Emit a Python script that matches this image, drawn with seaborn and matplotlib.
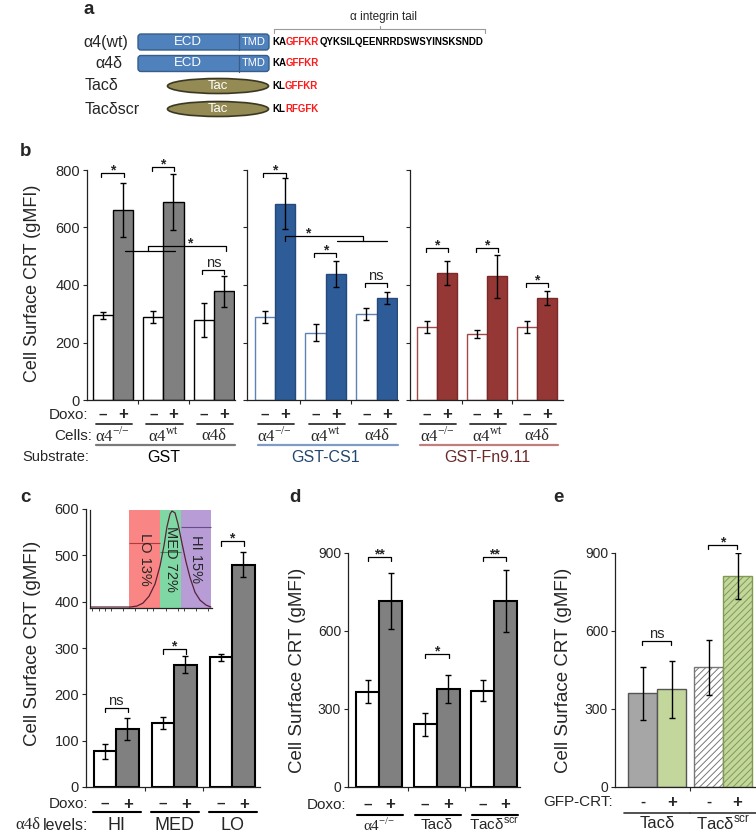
import numpy as np
import pandas as pd
import seaborn as sns
from matplotlib import pyplot as plt
from matplotlib import transforms
from matplotlib.lines import Line2D
from matplotlib.patches import FancyBboxPatch, Ellipse
from matplotlib.offsetbox import TextArea, HPacker, AnnotationBbox

sns.set_style('ticks')
plt.rcParams['font.family'] = ['Liberation Sans', 'DejaVu Sans']
plt.rcParams['mathtext.fontset'] = 'custom'
plt.rcParams['mathtext.rm'] = 'Liberation Serif'
plt.rcParams['mathtext.sf'] = 'Liberation Sans'
plt.rcParams['axes.linewidth'] = 0.9
plt.rcParams['axes.edgecolor'] = '#222222'
plt.rcParams['hatch.linewidth'] = 0.7

W, H = 756, 835

# ---------------- data ----------------
constructs = ['α4(wt)', 'α4δ', 'Tacδ', 'Tacδscr']
tail_head = ['KA', 'KA', 'KL', 'KL']
tail_motif = ['GFFKR', 'GFFKR', 'GFFKR', 'RFGFK']
tail_rest = ['QYKSILQEENRRDSWSYINSKSNDD', '', '', '']

b_cells = ['α4-/-', 'α4wt', 'α4δ']
b_cell_labels = ['α4$^{\\mathrm{{-}/{-}}}$', 'α4$^{\\mathrm{wt}}$', 'α4δ']
substrates = ['GST', 'GST-CS1', 'GST-Fn9.11']
gst_minus = [295, 288, 278]
gst_minus_err = [12, 20, 60]
gst_plus = [660, 688, 378]
gst_plus_err = [94, 97, 55]
cs1_minus = [290, 234, 300]
cs1_minus_err = [21, 30, 20]
cs1_plus = [683, 437, 356]
cs1_plus_err = [88, 45, 21]
fn_minus = [255, 229, 255]
fn_minus_err = [21, 15, 21]
fn_plus = [443, 430, 354]
fn_plus_err = [42, 75, 25]
gst_sig = ['*', '*', 'ns']
cs1_sig = ['*', '*', 'ns']
fn_sig = ['*', '*', '*']

c_levels = ['HI', 'MED', 'LO']
c_minus = [77, 139, 280]
c_minus_err = [16, 13, 8]
c_plus = [125, 264, 480]
c_plus_err = [23, 19, 27]
c_sig = ['ns', '*', '*']
gate_names = ['LO 13%', 'MED 72%', 'HI 15%']
hist_x = [0.01, 0.33, 0.385, 0.434, 0.484, 0.533, 0.574, 0.607, 0.631, 0.656,
          0.672, 0.697, 0.721, 0.754, 0.787, 0.820, 0.861, 0.902, 0.951, 0.99]
hist_y = [0.01, 0.01, 0.02, 0.05, 0.12, 0.245, 0.43, 0.64, 0.83, 0.96,
          0.99, 0.97, 0.86, 0.66, 0.47, 0.31, 0.16, 0.08, 0.03, 0.01]

d_cells = ['α4-/-', 'Tacδ', 'Tacδscr']
d_cell_labels = ['α4$^{\\mathrm{{-}/{-}}}$', 'Tacδ', 'Tacδ$^{\\mathsf{scr}}$']
d_minus = [367, 241, 371]
d_minus_err = [44, 45, 42]
d_plus = [715, 376, 715]
d_plus_err = [107, 53, 118]
d_sig = ['**', '*', '**']

e_cells = ['Tacδ', 'Tacδscr']
e_cell_labels = ['Tacδ', 'Tacδ$^{\\mathsf{scr}}$']
e_minus = [360, 460]
e_minus_err = [102, 105]
e_plus = [376, 811]
e_plus_err = [110, 88]
e_sig = ['ns', '*']

fig = plt.figure(figsize=(W / 100, H / 100), dpi=100)
ov = fig.add_axes([0, 0, 1, 1])
ov.set_xlim(0, W)
ov.set_ylim(H, 0)
ov.axis('off')


def fy(ypx):
    return 1 - ypx / H


def px_axes(x0, y0, x1, y1):
    return fig.add_axes([x0 / W, 1 - y1 / H, (x1 - x0) / W, (y1 - y0) / H])


def draw_bars(ax, groups, minus, plus, fills, width, lw, edge='black'):
    n = len(groups)
    df = pd.DataFrame({'group': groups * 2, 'treat': ['-'] * n + ['+'] * n,
                       'value': minus + plus})
    sns.barplot(data=df, x='group', y='value', hue='treat', hue_order=['-', '+'],
                palette=dict(zip(['-', '+'], fills)), width=width, saturation=1,
                linewidth=lw, edgecolor=edge, errorbar=None, legend=False, ax=ax)


def draw_err(ax, errs, lw=1.0, cap=2.5):
    for p, e in zip(ax.patches, errs):
        ax.errorbar(p.get_x() + p.get_width() / 2, p.get_height(), yerr=e, fmt='none',
                    ecolor='black', elinewidth=lw, capsize=cap, capthick=lw, zorder=5)


def style(ax, xlim, ylim, yticks, n, labels=True, fs=10.5):
    ax.set_xlim(*xlim)
    ax.set_ylim(*ylim)
    ax.set_yticks(yticks)
    if not labels:
        ax.set_yticklabels([])
    ax.set_xlabel('')
    ax.set_ylabel('')
    sns.despine(ax=ax)
    ax.tick_params(axis='y', length=3, width=0.8, labelsize=fs, pad=2)
    ax.set_xticks(np.arange(n - 1) + 0.5)
    ax.set_xticklabels([])
    ax.tick_params(axis='x', length=3, width=0.8)


def bracket(ax, i, y, drop, label, x0=-0.23, x1=0.21):
    ax.plot([i + x0, i + x0, i + x1, i + x1], [y - drop, y, y, y - drop],
            color='black', lw=0.9, clip_on=False)
    if label.startswith('*'):
        ax.annotate(label, (i + (x0 + x1) / 2, y), xytext=(0, -3), textcoords='offset points',
                    ha='center', va='bottom', fontsize=10, fontweight='bold', annotation_clip=False)
    else:
        ax.annotate(label, (i + (x0 + x1) / 2, y), xytext=(0, 0), textcoords='offset points',
                    ha='center', va='bottom', fontsize=10.5, annotation_clip=False)


def under(ax, x, ypx, s, **kw):
    kw.setdefault('fontsize', 10.5)
    ax.annotate(s, (x, fy(ypx)), xycoords=('data', 'figure fraction'), ha='center',
                va='center', annotation_clip=False, **kw)


def hline(ax, x0, x1, ypx, color='#333333', lw=1.3):
    tr = transforms.blended_transform_factory(ax.transData, fig.transFigure)
    fig.add_artist(Line2D([x0, x1], [fy(ypx)] * 2, transform=tr, color=color, lw=lw))


def panel_letter(x, y, s):
    ov.text(x, y, s, fontsize=13.5, fontweight='bold', va='center', ha='left')


# ---------------- panel a ----------------
panel_letter(84, 10, 'a')
row_y = [42, 63.5, 86, 109]
for name, y, x in zip(constructs, row_y, [83, 95, 85, 85]):
    ov.text(x, y, name, fontsize=11.5, va='center', ha='left')
for y in row_y[:2]:
    ov.add_patch(FancyBboxPatch((138, y - 8), 131, 16, boxstyle='round,pad=0,rounding_size=3',
                                fc='#4f81bd', ec='#385d8a', lw=1))
    ov.plot([239, 239], [y - 8, y + 8], color='#385d8a', lw=0.9)
    ov.text(188, y, 'ECD', color='white', fontsize=9.5, ha='center', va='center')
    ov.text(254, y, 'TMD', color='white', fontsize=8, ha='center', va='center')
for y in row_y[2:]:
    ov.add_patch(Ellipse((218, y), 101, 15, fc='#948a54', ec='#3b3822', lw=1.2))
    ov.text(218, y, 'Tac', color='white', fontsize=9.5, ha='center', va='center')
for y, h, m, r in zip(row_y, tail_head, tail_motif, tail_rest):
    parts = [(h, 'black'), (m, '#ff1a1a'), (r, 'black')]
    kids = [TextArea(s, textprops=dict(color=c, fontsize=7, fontweight='bold'))
            for s, c in parts if s]
    ab = AnnotationBbox(HPacker(children=kids, sep=0, pad=0), (272, y), xycoords='data',
                        box_alignment=(0, 0.5), frameon=False, pad=0)
    ov.add_artist(ab)
ov.plot([274, 274, 485, 485], [33, 29, 29, 33], color='#9a9a9a', lw=0.8)
ov.plot([380, 380], [29, 26], color='#9a9a9a', lw=0.8)
ov.text(383, 17, 'α integrin tail', fontsize=8.5, ha='center', va='center')

# ---------------- panel b ----------------
panel_letter(20, 152, 'b')
b_px = [(87, 235), (247, 398), (410, 563)]
b_xlims = [(-0.515, 2.42), (-0.55, 2.42), (-0.54, 2.52)]
b_fill = ['#808080', '#2e5c98', '#953735']
b_edge_minus = ['black', '#5f82b4', '#a04848']
b_edge_plus = ['black', '#24497a', '#7a2a2a']
b_line = ['#7a7a7a', '#7f9dc4', '#c07f7f']
b_text = ['black', '#24466e', '#6b2a2a']
b_minus = [gst_minus, cs1_minus, fn_minus]
b_minus_err = [gst_minus_err, cs1_minus_err, fn_minus_err]
b_plus = [gst_plus, cs1_plus, fn_plus]
b_plus_err = [gst_plus_err, cs1_plus_err, fn_plus_err]
b_sigs = [gst_sig, cs1_sig, fn_sig]
b_sig_y = [[790, 810, 452], [790, 510, 407], [529, 529, 407]]
b_axes = []
for k in range(3):
    ax = px_axes(b_px[k][0], 170, b_px[k][1], 400)
    draw_bars(ax, b_cells, b_minus[k], b_plus[k], ['white', b_fill[k]], 0.8, 1.0)
    for p in ax.patches[:3]:
        p.set_edgecolor(b_edge_minus[k])
    for p in ax.patches[3:]:
        p.set_edgecolor(b_edge_plus[k])
    draw_err(ax, b_minus_err[k] + b_plus_err[k])
    style(ax, b_xlims[k], (0, 800), [0, 200, 400, 600, 800], 3, labels=(k == 0))
    for i in range(3):
        bracket(ax, i, b_sig_y[k][i], 14, b_sigs[k][i])
        under(ax, i - 0.2, 415, '–', fontweight='bold', fontsize=11)
        under(ax, i + 0.2, 415, '+', fontweight='bold', fontsize=12)
        hline(ax, i - 0.34, i + 0.38, 424)
        under(ax, i, 436, b_cell_labels[i], fontfamily='Liberation Serif', fontsize=12)
    hline(ax, -0.34, 2.42, 445, color=b_line[k], lw=1.6)
    under(ax, 1, 457, substrates[k], color=b_text[k], fontsize=11.5)
    b_axes.append(ax)

# comparison brackets across cell types
ax = b_axes[0]
ax.plot([0.24, 1.23], [518, 518], color='black', lw=0.9)
ax.plot([0.69, 0.69, 2.24, 2.24], [518, 536, 536, 518], color='black', lw=0.9, clip_on=False)
ax.annotate('*', (1.52, 536), xytext=(0, -3), textcoords='offset points', ha='center',
            va='bottom', fontsize=10, fontweight='bold')
ax = b_axes[1]
ax.plot([0.2, 0.2, 1.73, 1.73], [554, 570, 570, 554], color='black', lw=0.9)
ax.plot([1.22, 2.2], [554, 554], color='black', lw=0.9)
ax.annotate('*', (0.65, 570), xytext=(0, -3), textcoords='offset points', ha='center',
            va='bottom', fontsize=10, fontweight='bold')

ov.text(88, 415, 'Doxo:', fontsize=11, ha='right', va='center')
ov.text(92, 436, 'Cells:', fontsize=11, ha='right', va='center')
ov.text(22, 457, 'Substrate:', fontsize=10.5, ha='left', va='center')
ov.text(33, 283, 'Cell Surface CRT (gMFI)', fontsize=13, rotation=90, ha='center', va='center')

# ---------------- panel c ----------------
panel_letter(20, 497, 'c')
ax = px_axes(86, 509, 260, 787)
draw_bars(ax, c_levels, c_minus, c_plus, ['white', '#808080'], 0.78, 1.5)
draw_err(ax, c_minus_err + c_plus_err)
style(ax, (-0.52, 2.48), (0, 600), list(range(0, 601, 100)), 3)
for i in range(3):
    bracket(ax, i, [170, 297, 530][i], 9, c_sig[i], -0.2, 0.2)
    under(ax, i - 0.2, 804, '–', fontweight='bold', fontsize=11)
    under(ax, i + 0.2, 804, '+', fontweight='bold', fontsize=12)
    hline(ax, i - 0.4, i + 0.42, 812, color='black', lw=1.5)
    under(ax, i, 825, c_levels[i], fontsize=13)
ov.text(88, 804, 'Doxo:', fontsize=11, ha='right', va='center')
ov.text(40, 825, 'α4δ', fontsize=12, ha='right', va='center', fontfamily='Liberation Serif')
ov.text(88, 825, 'levels:', fontsize=11.5, ha='right', va='center')
ov.text(33, 643, 'Cell Surface CRT (gMFI)', fontsize=13.5, rotation=90, ha='center', va='center')

# inset histogram
ins = px_axes(90, 510, 212, 608)
gate_edges = [0.32, 0.574, 0.746, 0.995]
gate_colors = ['#f98684', '#7fd8a4', '#b79cd6']
gate_line_col = ['#b03a3a', '#3a8a5a', '#6a4a8e']
gate_line_y = [0.663, 0.571, 0.827]
for g in range(3):
    ins.axvspan(gate_edges[g], gate_edges[g + 1], color=gate_colors[g], lw=0)
    ins.hlines(gate_line_y[g], gate_edges[g], gate_edges[g + 1], color=gate_line_col[g], lw=0.8)
    xc = (gate_edges[g] + gate_edges[g + 1]) / 2
    ins.text(xc, 0.5, gate_names[g], rotation=270, ha='center', va='center', fontsize=10.5)
sns.lineplot(x=hist_x, y=hist_y, ax=ins, color='#5a2238', lw=0.9)
ins.set_xlim(0, 1)
ins.set_ylim(0, 1.0)
ins.set_yticks([])
ins.set_xticks([])
ins.set_xticks([0.02, 0.07, 0.12, 0.17, 0.27, 0.37, 0.47, 0.52, 0.62, 0.72, 0.77, 0.87, 0.97], minor=True)
ins.tick_params(axis='x', which='minor', length=2, width=0.6)
sns.despine(ax=ins)
ins.patch.set_alpha(0)
ov.text(143, 621, 'α4δ', fontsize=11.5, ha='center', va='center', fontfamily='Liberation Serif')

# ---------------- panel d ----------------
panel_letter(289, 497, 'd')
ax = px_axes(348, 553, 520, 787)
draw_bars(ax, d_cells, d_minus, d_plus, ['white', '#808080'], 0.8, 1.5)
draw_err(ax, d_minus_err + d_plus_err)
style(ax, (-0.54, 2.45), (0, 900), [0, 300, 600, 900], 3, fs=10)
for i in range(3):
    bracket(ax, i, [885, 512, 885][i], 15, d_sig[i], -0.2, 0.21)
    under(ax, i - 0.2, 805, '–', fontweight='bold', fontsize=11)
    under(ax, i + 0.2, 805, '+', fontweight='bold', fontsize=12)
    hline(ax, i - 0.38, i + 0.42, 815, color='black', lw=1.5)
    fam = 'Liberation Serif' if i == 0 else 'Liberation Sans'
    under(ax, i, 825, d_cell_labels[i], fontsize=11, fontfamily=fam)
ov.text(346, 805, 'Doxo:', fontsize=11, ha='right', va='center')
ov.text(297, 670, 'Cell Surface CRT (gMFI)', fontsize=13.5, rotation=90, ha='center', va='center')

# ---------------- panel e ----------------
panel_letter(553, 497, 'e')
ax = px_axes(615, 553, 756, 787)
draw_bars(ax, e_cells, e_minus, e_plus, ['#a6a6a6', '#c3d69b'], 0.88, 1.0)
e_face = ['#a6a6a6', 'white', '#c3d69b', '#c3d69b']
e_edges = ['#555555', '#777777', '#555555', '#7f9a52']
e_hatch = ['', '/////', '', '/////']
for p, fc, ec, ht in zip(ax.patches, e_face, e_edges, e_hatch):
    p.set_facecolor(fc)
    p.set_edgecolor(ec)
    p.set_hatch(ht)
draw_err(ax, e_minus_err + e_plus_err)
style(ax, (-0.64, 1.5), (0, 900), [0, 300, 600, 900], 2, fs=10)
for i in range(2):
    bracket(ax, i, [560, 930][i], 15, e_sig[i], -0.23, 0.21)
    under(ax, i - 0.22, 802, '-', fontweight='bold', fontsize=11)
    under(ax, i + 0.22, 802, '+', fontweight='bold', fontsize=12)
    hline(ax, i - 0.5, i + 0.5, 813, color='#333333', lw=1.2)
    under(ax, i, 824, e_cell_labels[i], fontsize=12)
ov.text(613, 802, 'GFP-CRT:', fontsize=11, ha='right', va='center')
ov.text(563, 670, 'Cell Surface CRT (gMFI)', fontsize=13.5, rotation=90, ha='center', va='center')

fig.savefig('out.png', dpi=100)
